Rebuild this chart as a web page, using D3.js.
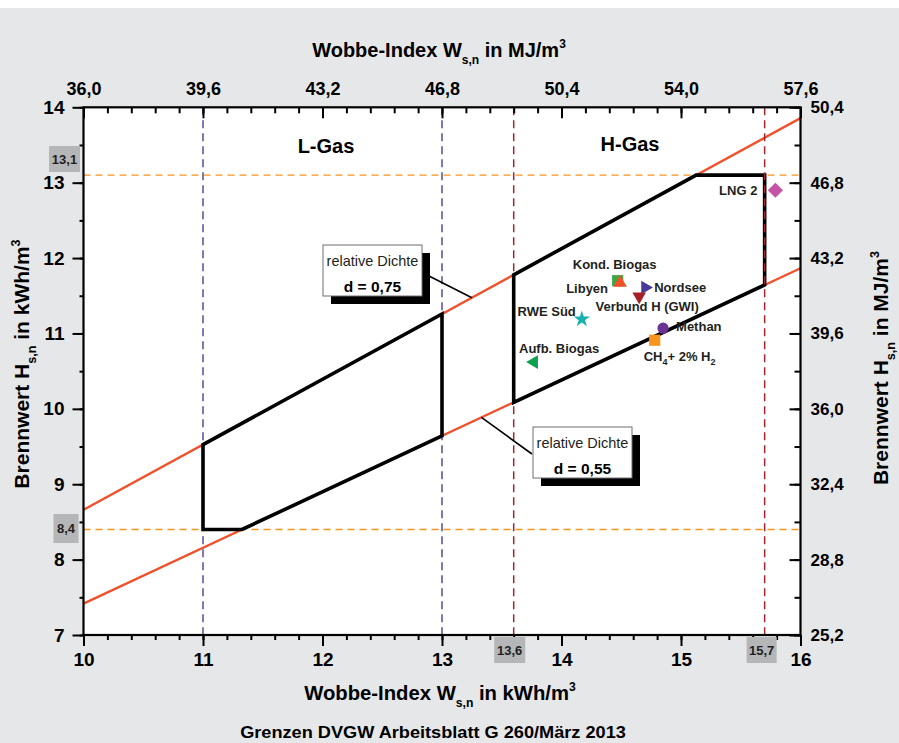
<!DOCTYPE html>
<html><head><meta charset="utf-8">
<script src="https://cdn.jsdelivr.net/npm/d3@7/dist/d3.min.js"></script>
<style>
body{margin:0;background:#fff;}
svg text{font-family:"Liberation Sans",Arial,Helvetica,sans-serif;}
</style></head><body>
<svg id="chart" width="899" height="743"></svg>
<script>
// ---------- data ----------
const wobbeTicks = [10, 11, 12, 13, 14, 15, 16];
const brennTicks = [7, 8, 9, 10, 11, 12, 13, 14];
const wobbeMJTicks = [36.0, 39.6, 43.2, 46.8, 50.4, 54.0, 57.6];
const brennMJTicks = [25.2, 28.8, 32.4, 36.0, 39.6, 43.2, 46.8, 50.4];
const densities = [0.75, 0.55];
const densityLabels = ["d = 0,75", "d = 0,55"];
const hsLimits = [13.1, 8.4];
const lGasWobbe = [11, 13];
const hGasWobbe = [13.6, 15.7];
const gasNames = ["LNG 2", "Kond. Biogas", "Libyen", "Nordsee", "Verbund H (GWI)", "RWE Süd", "Methan", "CH4+ 2% H2", "Aufb. Biogas"];
const gasWobbe = [15.79, 14.47, 14.49, 14.70, 14.65, 14.17, 14.85, 14.78, 13.77];
const gasHs = [12.90, 11.70, 11.67, 11.61, 11.49, 11.19, 11.07, 10.91, 10.62];
const gasSymbols = ["diamond", "square", "triangleUp", "triangleRight", "triangleDown", "star", "circle", "square", "triangleLeft"];

// ---------- styles ----------
const gasColors = {"LNG 2":"#c452a6","Kond. Biogas":"#3aa845","Libyen":"#f05127","Nordsee":"#4a3a97","Verbund H (GWI)":"#a51f27","RWE Süd":"#19b1b0","Methan":"#6a3393","CH4+ 2% H2":"#f7941d","Aufb. Biogas":"#0aa24f"};
// label placement relative to marker: [dx, dy, anchor]
const labelPlace = {"LNG 2":[-18,5,"end"],"Kond. Biogas":[-3,-12,"middle"],"Libyen":[-12,10,"end"],"Nordsee":[9,5,"start"],"Verbund H (GWI)":[8,14,"middle"],"RWE Süd":[-6,-3,"end"],"Methan":[13,3,"start"],"CH4+ 2% H2":[-11,21,"start"],"Aufb. Biogas":[-15,-9,"start"]};

const svg = d3.select("#chart");
const W = 899, H = 743;
const x = d3.scaleLinear().domain([10, 16]).range([83.5, 800.5]);
const y = d3.scaleLinear().domain([7, 14]).range([635, 107.3]);
const xTop = d3.scaleLinear().domain([36, 57.6]).range([83.5, 800.5]);
const yRight = d3.scaleLinear().domain([25.2, 50.4]).range([635, 107.3]);
const fmt = v => d3.format(".1f")(v).replace(".", ",");

// background
svg.append("rect").attr("x",0).attr("y",8).attr("width",W).attr("height",H-8).attr("fill","#e6e7e8");
svg.append("rect").attr("x",x(10)).attr("y",y(14)).attr("width",x(16)-x(10)).attr("height",y(7)-y(14)).attr("fill","#fff");

svg.append("defs").append("clipPath").attr("id","clip").append("rect")
  .attr("x",x(10)).attr("y",y(14)).attr("width",x(16)-x(10)).attr("height",y(7)-y(14));
const plot = svg.append("g").attr("clip-path","url(#clip)");

// horizontal orange dashed limits
hsLimits.forEach(h => {
  plot.append("line").attr("x1",x(10)).attr("x2",x(16)).attr("y1",y(h)).attr("y2",y(h))
    .attr("stroke","#f7941d").attr("stroke-width",1.4).attr("stroke-dasharray","7,5");
});
// vertical dashed lines
lGasWobbe.forEach(w => {
  plot.append("line").attr("x1",x(w)).attr("x2",x(w)).attr("y1",y(14)).attr("y2",y(7))
    .attr("stroke","#574a9c").attr("stroke-width",1.5).attr("stroke-dasharray","8,5");
});
plot.append("line").attr("x1",x(hGasWobbe[0])).attr("x2",x(hGasWobbe[0])).attr("y1",y(14)).attr("y2",y(7))
    .attr("stroke","#a3262e").attr("stroke-width",1.5).attr("stroke-dasharray","8,5");

// density lines Hs = W * sqrt(d)
densities.forEach(d => {
  plot.append("line").attr("x1",x(10)).attr("y1",y(10*Math.sqrt(d))).attr("x2",x(16)).attr("y2",y(16*Math.sqrt(d)))
    .attr("stroke","#f0502a").attr("stroke-width",2.3);
});

// polygons
const sHi = Math.sqrt(densities[0]), sLo = Math.sqrt(densities[1]);
const lPoly = [[lGasWobbe[0], hsLimits[1]], [lGasWobbe[0], lGasWobbe[0]*sHi], [lGasWobbe[1], lGasWobbe[1]*sHi],
  [lGasWobbe[1], lGasWobbe[1]*sLo], [hsLimits[1]/sLo, hsLimits[1]]];
const hPoly = [[hGasWobbe[0], hGasWobbe[0]*sLo], [hGasWobbe[0], hGasWobbe[0]*sHi], [hsLimits[0]/sHi, hsLimits[0]],
  [hGasWobbe[1], hsLimits[0]], [hGasWobbe[1], hGasWobbe[1]*sLo]];
const line = d3.line().x(p => x(p[0])).y(p => y(p[1]));
[lPoly, hPoly].forEach(p => {
  svg.append("path").attr("d", line(p) + "Z").attr("fill","none").attr("stroke","#000")
    .attr("stroke-width",3.6).attr("stroke-linejoin","miter");
});
const plot2 = svg.append("g").attr("clip-path","url(#clip)");
plot2.append("line").attr("x1",x(hGasWobbe[1])).attr("x2",x(hGasWobbe[1])).attr("y1",y(14)).attr("y2",y(7))
    .attr("stroke","#a3262e").attr("stroke-width",1.5).attr("stroke-dasharray","8,5");

// axes
function styleAxis(g){
  g.select(".domain").remove();
  g.selectAll(".tick line").attr("stroke","#000").attr("stroke-width",2);
  g.selectAll("text").attr("fill","#000").attr("font-weight","bold").style("font-family","'Liberation Sans',Arial,sans-serif");
}
const minorBottom = d3.range(0, 31).map(i => 10 + i*0.2);
svg.append("g").attr("transform",`translate(0,${y(7)})`)
  .call(d3.axisBottom(x).tickValues(minorBottom).tickSize(5).tickFormat(""))
  .call(styleAxis);
svg.append("g").attr("transform",`translate(0,${y(7)})`)
  .call(d3.axisBottom(x).tickValues(wobbeTicks).tickSize(11).tickPadding(7).tickFormat(d3.format("d")))
  .call(styleAxis).call(g => g.selectAll("text").attr("font-size",19));

const minorTop = d3.range(0, 31).map(i => 36 + i*0.72);
svg.append("g").attr("transform",`translate(0,${y(14)})`)
  .call(d3.axisTop(xTop).tickValues(minorTop).tickSize(-6).tickFormat(""))
  .call(styleAxis);
svg.append("g").attr("transform",`translate(0,${y(14)})`)
  .call(d3.axisTop(xTop).tickValues(wobbeMJTicks).tickSize(-11).tickPadding(12).tickFormat(fmt))
  .call(styleAxis).call(g => g.selectAll("text").attr("font-size",18));

const minorLeft = d3.range(0, 15).map(i => 7 + i*0.5);
svg.append("g").attr("transform",`translate(${x(10)},0)`)
  .call(d3.axisLeft(y).tickValues(minorLeft).tickSize(4).tickFormat(""))
  .call(styleAxis);
svg.append("g").attr("transform",`translate(${x(10)},0)`)
  .call(d3.axisLeft(y).tickValues(brennTicks).tickSize(11).tickPadding(8).tickFormat(d3.format("d")))
  .call(styleAxis).call(g => g.selectAll("text").attr("font-size",19));

const minorRight = d3.range(0, 15).map(i => 25.2 + i*1.8);
svg.append("g").attr("transform",`translate(${x(16)},0)`)
  .call(d3.axisRight(yRight).tickValues(minorRight).tickSize(-6).tickFormat(""))
  .call(styleAxis);
svg.append("g").attr("transform",`translate(${x(16)},0)`)
  .call(d3.axisRight(yRight).tickValues(brennMJTicks).tickSize(-11).tickPadding(10).tickFormat(fmt))
  .call(styleAxis).call(g => g.selectAll("text").attr("font-size",17));

// frame
svg.append("rect").attr("x",x(10)).attr("y",y(14)).attr("width",x(16)-x(10)).attr("height",y(7)-y(14))
  .attr("fill","none").attr("stroke","#000").attr("stroke-width",2.2);

// gray value boxes
function grayBox(cx, cy, w, h, t){
  svg.append("rect").attr("x",cx-w/2).attr("y",cy-h/2).attr("width",w).attr("height",h).attr("fill","#b5b6b8");
  svg.append("text").attr("x",cx).attr("y",cy+4.5).attr("text-anchor","middle").attr("font-size",13)
    .attr("font-weight","bold").attr("fill","#231f20").text(t);
}
grayBox(64.5, 159, 31, 26, fmt(hsLimits[0]));
grayBox(66, 528.5, 25, 29, fmt(hsLimits[1]));
grayBox(x(hGasWobbe[0])-4, 650, 31, 26, fmt(hGasWobbe[0]));
grayBox(x(hGasWobbe[1])-3, 650, 30, 26, fmt(hGasWobbe[1]));

// region labels
svg.append("text").attr("x",326).attr("y",153).attr("text-anchor","middle").attr("font-size",20).attr("font-weight","bold").text("L-Gas");
svg.append("text").attr("x",630).attr("y",150.5).attr("text-anchor","middle").attr("font-size",20).attr("font-weight","bold").text("H-Gas");

// callouts
function callout(bx, lineW, dens, label){
  const s = Math.sqrt(dens);
  svg.append("line").attr("x1",x(lineW)).attr("y1",y(lineW*s)).attr("x2",bx.lx).attr("y2",bx.ly)
    .attr("stroke","#000").attr("stroke-width",1.6);
  svg.append("rect").attr("x",bx.x+8).attr("y",bx.y+8).attr("width",bx.w).attr("height",bx.h).attr("fill","#000");
  svg.append("rect").attr("x",bx.x).attr("y",bx.y).attr("width",bx.w).attr("height",bx.h).attr("fill","#fff")
    .attr("stroke","#6d6e71").attr("stroke-width",1);
  svg.append("text").attr("x",bx.x+bx.w/2).attr("y",bx.y+21).attr("text-anchor","middle").attr("font-size",14.5)
    .attr("fill","#231f20").text("relative Dichte");
  svg.append("text").attr("x",bx.x+bx.w/2).attr("y",bx.y+46.5).attr("text-anchor","middle").attr("font-size",15.5)
    .attr("font-weight","bold").attr("fill","#000").text(label);
}
callout({x:323,y:245,w:99,h:51,lx:429,ly:276}, 13.25, densities[0], densityLabels[0]);
callout({x:533,y:427,w:99,h:51,lx:532,ly:454}, 13.33, densities[1], densityLabels[1]);

// markers
const sym = {
  diamond: {type: d3.symbolSquare, size: 115, rot: 45},
  square: {type: d3.symbolSquare, size: 125, rot: 0},
  triangleUp: {type: d3.symbolTriangle, size: 80, rot: 0},
  triangleRight: {type: d3.symbolTriangle, size: 80, rot: 90},
  triangleDown: {type: d3.symbolTriangle, size: 80, rot: 180},
  triangleLeft: {type: d3.symbolTriangle, size: 80, rot: 270},
  star: {type: d3.symbolStar, size: 85, rot: 0},
  circle: {type: d3.symbolCircle, size: 100, rot: 0}
};
gasNames.forEach((n, i) => {
  const s = sym[gasSymbols[i]];
  svg.append("path").attr("d", d3.symbol().type(s.type).size(s.size)())
    .attr("transform", `translate(${x(gasWobbe[i])},${y(gasHs[i])}) rotate(${s.rot})`)
    .attr("fill", gasColors[n]);
});
gasNames.forEach((n, i) => {
  const p = labelPlace[n];
  const t = svg.append("text").attr("x", x(gasWobbe[i]) + p[0]).attr("y", y(gasHs[i]) + p[1])
    .attr("text-anchor", p[2]).attr("font-size", 13).attr("font-weight","bold").attr("fill","#231f20");
  if (n.startsWith("CH4")) {
    t.append("tspan").text("CH");
    t.append("tspan").attr("font-size",9).attr("dy",4).text("4");
    t.append("tspan").attr("dy",-4).text("+ 2% H");
    t.append("tspan").attr("font-size",9).attr("dy",4).text("2");
  } else t.text(n);
});

// titles
function subTitle(t, main1, sub, main2, sup, fs){
  t.append("tspan").text(main1);
  t.append("tspan").attr("font-size",fs*0.6).attr("dy",fs*0.33).text(sub);
  t.append("tspan").attr("dy",-fs*0.33).text(main2);
  t.append("tspan").attr("font-size",fs*0.6).attr("dy",-fs*0.45).text(sup);
}
const tt = svg.append("text").attr("x",439).attr("y",57).attr("text-anchor","middle").attr("font-size",20).attr("font-weight","bold");
subTitle(tt, "Wobbe-Index W", "s,n", " in MJ/m", "3", 20);
const bt = svg.append("text").attr("x",0).attr("y",0).attr("text-anchor","middle").attr("font-size",20).attr("font-weight","bold");
subTitle(bt, "Wobbe-Index W", "s,n", " in kWh/m", "3", 20);
const lt = svg.append("text").attr("transform","translate(29,364) rotate(-90)").attr("text-anchor","middle").attr("font-size",21).attr("font-weight","bold");
subTitle(lt, "Brennwert H", "s,n", " in kWh/m", "3", 21);
const rt = svg.append("text").attr("transform","translate(888,368) rotate(-90)").attr("text-anchor","middle").attr("font-size",21).attr("font-weight","bold");
subTitle(rt, "Brennwert H", "s,n", " in MJ/m", "3", 21);
const st = svg.append("text").attr("x",0).attr("y",0).attr("text-anchor","middle").attr("font-size",17).attr("font-weight","bold").text("Grenzen DVGW Arbeitsblatt G 260/März 2013");

// condensed fonts for bottom texts
function fitWidth(sel, cx, by, target){
  const w = sel.node().getBBox().width;
  sel.attr("transform", `translate(${cx},${by}) scale(${target/w},1)`);
}
fitWidth(bt, 440, 700, 272);
fitWidth(st, 433, 738, 386);
</script>
</body></html>
